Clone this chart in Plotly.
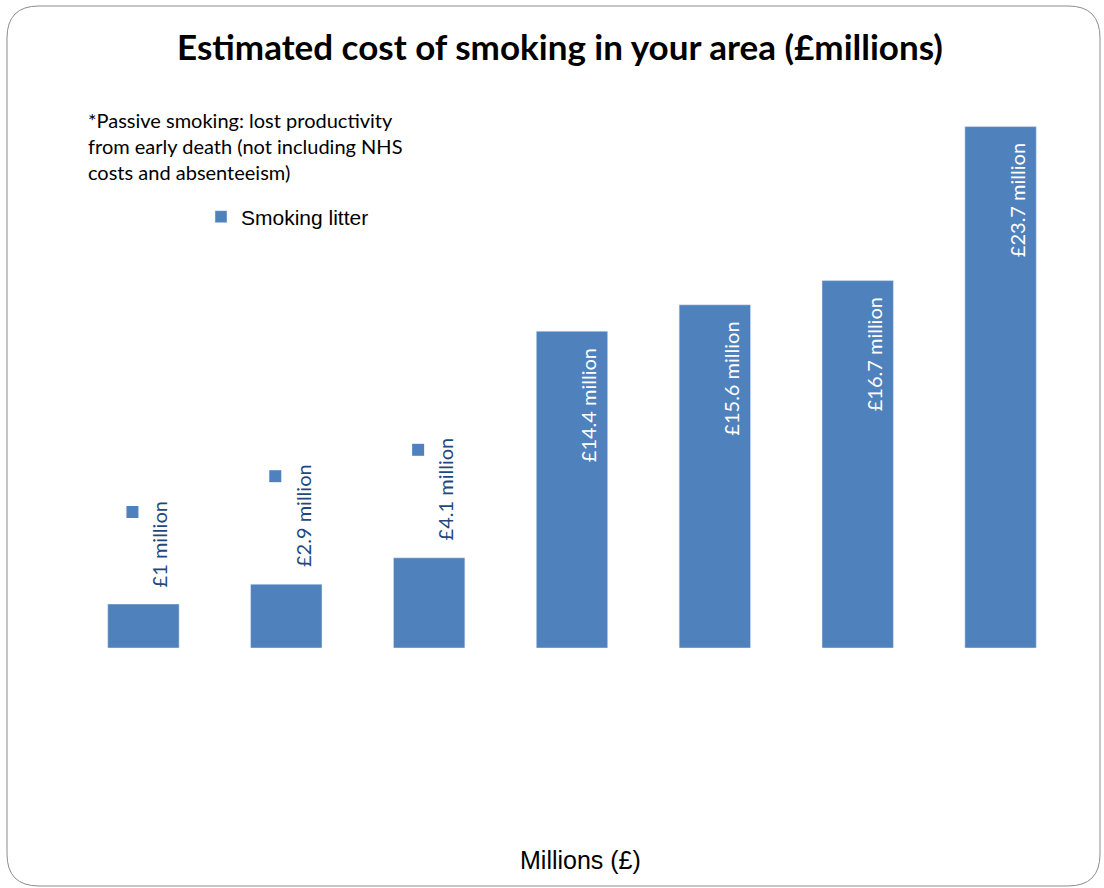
import plotly.graph_objects as go

# ---- data ----
series_name = "Smoking litter"
categories = ["c1", "c2", "c3", "c4", "c5", "c6", "c7"]
values = [2.0, 2.9, 4.1, 14.4, 15.6, 16.7, 23.7]
labels = ["£1 million", "£2.9 million", "£4.1 million", "£14.4 million",
          "£15.6 million", "£16.7 million", "£23.7 million"]
label_pos = ["outside", "outside", "outside", "inside", "inside", "inside", "inside"]
key_offset = [92, 108, 108, None, None, None, None]  # pixel offset of legend-key squares

title_text = "Estimated cost of smoking in your area (£millions)"
note_lines = ["*Passive smoking: lost productivity",
              "from early death (not including NHS",
              "costs and absenteeism)"]
x_title = "Millions (£)"

W, H = 1104, 888
ML, MR, MT, MB = 72, 32, 76, 240
PW, PH = W - ML - MR, H - MT - MB
BAR = "#4F81BD"
DARK = "#1F497D"

def px(x):
    return (x - ML) / PW

def py(y):
    return (H - MB - y) / PH

fig = go.Figure()
fig.add_trace(go.Bar(x=categories, y=values, name=series_name, marker_color=BAR,
                     showlegend=True, hoverinfo="skip"))

annotations = []
shapes = []
for c, v, lab, pos, ko in zip(categories, values, labels, label_pos, key_offset):
    if pos == "inside":
        annotations.append(dict(x=c, y=v, xref="x", yref="y", text=lab, textangle=-90,
                                showarrow=False, xshift=16, yshift=-15, yanchor="top",
                                font=dict(family="Lato", size=20, color="white")))
    else:
        annotations.append(dict(x=c, y=v, xref="x", yref="y", text=lab, textangle=-90,
                                showarrow=False, xshift=16, yshift=15, yanchor="bottom",
                                font=dict(family="Lato", size=20, color=DARK)))
    if ko is not None:
        shapes.append(dict(type="rect", xref="x", yref="y", xsizemode="pixel", ysizemode="pixel",
                           xanchor=c, yanchor=v, x0=-17, x1=-5, y0=ko - 6, y1=ko + 6,
                           fillcolor=BAR, line=dict(width=0)))

for i, line in enumerate(note_lines):
    annotations.append(dict(x=px(86), y=py(120 + 26 * i), xref="paper", yref="paper",
                            text=line, showarrow=False, xanchor="left", yanchor="middle",
                            font=dict(family="Lato", size=20, color="black")))

annotations.append(dict(x=px(580), y=py(860), xref="paper", yref="paper", text=x_title,
                        showarrow=False, xanchor="center", yanchor="middle",
                        font=dict(family="Liberation Sans", size=25, color="black")))

# rounded border
x0, x1, y0, y1, r = 7, 1100, 6, 886, 32
def P(a, b):
    return f"{px(a):.5f},{py(b):.5f}"
path = (f"M {P(x0 + r, y0)} L {P(x1 - r, y0)} Q {P(x1, y0)} {P(x1, y0 + r)} "
        f"L {P(x1, y1 - r)} Q {P(x1, y1)} {P(x1 - r, y1)} L {P(x0 + r, y1)} "
        f"Q {P(x0, y1)} {P(x0, y1 - r)} L {P(x0, y0 + r)} Q {P(x0, y0)} {P(x0 + r, y0)} Z")
shapes.append(dict(type="path", xref="paper", yref="paper", path=path,
                   line=dict(color="#8c8c8c", width=1), fillcolor="rgba(0,0,0,0)", layer="below"))

fig.update_layout(
    width=W, height=H,
    margin=dict(l=ML, r=MR, t=MT, b=MB),
    paper_bgcolor="white", plot_bgcolor="white",
    bargap=0.5,
    title=dict(text=f"<b>{title_text}</b>", x=560 / W, xanchor="center",
               y=1 - 48 / H, yanchor="middle", yref="container", xref="container",
               font=dict(family="Lato", size=35, color="black")),
    xaxis=dict(showticklabels=False, showgrid=False, zeroline=False, showline=False,
               ticks="", range=[-0.5, 6.5]),
    yaxis=dict(showticklabels=False, showgrid=False, zeroline=False, showline=False,
               ticks="", range=[0, PH / 22]),
    legend=dict(x=px(201), y=py(217), xanchor="left", yanchor="middle",
                font=dict(family="Liberation Sans", size=21, color="black"),
                bgcolor="rgba(0,0,0,0)", itemwidth=30),
    annotations=annotations,
    shapes=shapes,
)

fig.write_html("out.html")
